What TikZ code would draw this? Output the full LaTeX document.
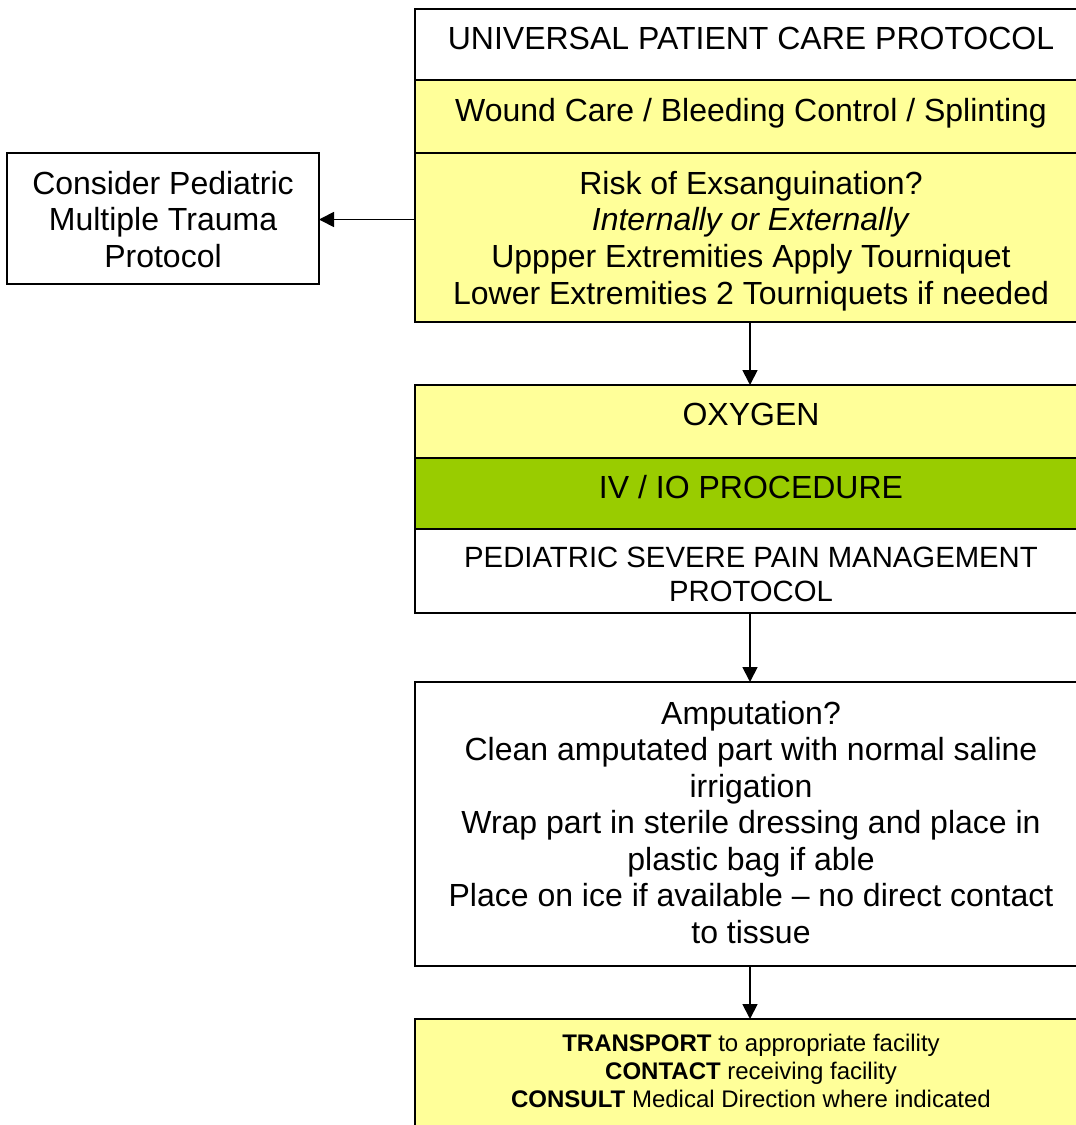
\documentclass[tikz,border=0pt]{standalone}
\usepackage{fontspec}
\setmainfont{Liberation Sans}
\usetikzlibrary{arrows.meta,calc}
\definecolor{paleyellow}{HTML}{FFFF99}
\definecolor{ivgreen}{HTML}{99CC00}
\begin{document}
\begin{tikzpicture}[x=1pt,y=-1pt,
  band/.style={draw=black,line width=2pt,rectangle,inner sep=0pt,outer sep=0pt,anchor=north west,minimum width=670pt},
  txt/.style={align=center,inner sep=0pt,outer sep=0pt,font=\fontsize{32}{36.6}\selectfont},
  txtsm/.style={align=center,inner sep=0pt,outer sep=0pt,font=\fontsize{29.3}{34}\selectfont},
  txtxs/.style={align=center,inner sep=0pt,outer sep=0pt,font=\fontsize{24}{28}\selectfont},
  conn/.style={line width=1.8pt,-{Triangle[length=15pt,width=15pt]}}]
\clip (0,0) rectangle (1076,1125);
\fill[white] (0,0) rectangle (1076,1125);
% bands
\node[band,fill=white,minimum height=71pt] (b1) at (415,9) {};
\node[band,fill=paleyellow,minimum height=73pt] (b2) at (415,80) {};
\node[band,fill=paleyellow,minimum height=169pt] (b3) at (415,153) {};
\node[band,fill=paleyellow,minimum height=73pt] (b4) at (415,385) {};
\node[band,fill=ivgreen,minimum height=71pt] (b5) at (415,458) {};
\node[band,fill=white,minimum height=84pt] (b6) at (415,529) {};
\node[band,fill=white,minimum height=284pt] (b7) at (415,682) {};
\node[band,fill=paleyellow,minimum height=125pt] (b8) at (415,1019) {};
\node[band,fill=white,minimum width=312pt,minimum height=131pt] (lb) at (7,153) {};
% texts
\node[txt,anchor=base] (t1) at (751,49.5) {UNIVERSAL PATIENT CARE PROTOCOL};
\node[txt,anchor=base] (t2) at (751,121.5) {Wound Care / Bleeding Control / Splinting};
\node[txt] (t3) at (751,241) {Risk of Exsanguination?\\\textit{Internally or Externally}\\Uppper Extremities Apply Tourniquet\\Lower Extremities 2 Tourniquets if needed};
\node[txt,anchor=base] (t4) at (751,425.5) {OXYGEN};
\node[txt,anchor=base] (t5) at (751,498.5) {IV / IO PROCEDURE};
\node[txtsm] (t6) at (751,574) {PEDIATRIC SEVERE PAIN MANAGEMENT\\PROTOCOL};
\node[txt,font=\fontsize{32}{36.5}\selectfont] (t7) at (751,822.5) {Amputation?\\Clean amputated part with normal saline\\irrigation\\Wrap part in sterile dressing and place in\\plastic bag if able\\Place on ice if available -- no direct contact\\to tissue};
\node[txtxs] (t8) at (751,1071) {\textbf{TRANSPORT} to appropriate facility\\\textbf{CONTACT} receiving facility\\\textbf{CONSULT} Medical Direction where indicated};
\node[txt] (t9) at (163,219.5) {Consider Pediatric\\Multiple Trauma\\Protocol};
% connectors
\draw[conn] (b3.south) -- (b4.north);
\draw[conn] (b6.south) -- (b7.north);
\draw[conn] (b7.south) -- (b8.north);
\draw[conn] ($(b3.west |- lb.east)+(0,1)$) -- ($(lb.east)+(0,1)$);
\end{tikzpicture}
\end{document}
